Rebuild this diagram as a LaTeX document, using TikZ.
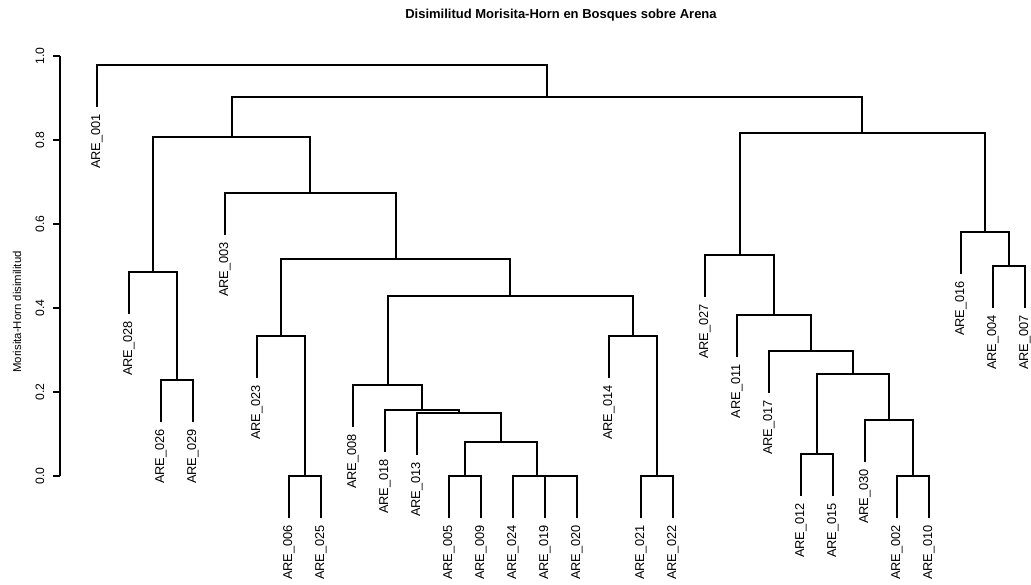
\documentclass[tikz,border=0pt]{standalone}
\usepackage{fontspec}
\setmainfont{Liberation Sans}
\begin{document}
\begin{tikzpicture}[x=1pt,y=-1pt,
  edge/.style={line width=2pt, line cap=rect},
  axisline/.style={line width=2pt},
  leaflab/.style={rotate=90, anchor=east, inner xsep=8pt, inner ysep=0pt, font=\fontsize{12.8}{14}\selectfont},
  ticklab/.style={rotate=90, inner sep=0pt, font=\fontsize{12.2}{14}\selectfont},
  titlelab/.style={font=\bfseries\fontsize{13}{15}\selectfont},
  ylab/.style={rotate=90, inner sep=0pt, font=\fontsize{11.4}{14}\selectfont}]
\useasboundingbox (0,0) rectangle (1031,585);

% title and axis
\node[titlelab] (title) at (561,15) {Disimilitud Morisita-Horn en Bosques sobre Arena};
\node[ylab] (ylabel) at (17,312) {Morisita-Horn disimilitud};
\coordinate (ax0) at (60,476);
\coordinate (ax1) at (60,56);
\draw[axisline] (ax0) -- (ax1);
\foreach \v/\y/\t in {0/476/0.0,1/392/0.2,2/308/0.4,3/224/0.6,4/140/0.8,5/56/1.0}{
  \coordinate (tk\v) at (60,\y);
  \draw[axisline] (tk\v) -- ++(-7,0);
  \node[ticklab] (tl\v) at (40,\y) {\t};
}

% merge points
\coordinate (m2629) at (177,380);
\coordinate (m028) at (153,272);
\coordinate (m0625) at (305,476);
\coordinate (m023) at (281,336);
\coordinate (m0509) at (465,476);
\coordinate (m1920) at (561,476);
\coordinate (m024g) at (537,476);
\coordinate (m5to20) at (501,442);
\coordinate (m013) at (459,413);
\coordinate (m018) at (422,410);
\coordinate (m008) at (388,385);
\coordinate (m2122) at (657,476);
\coordinate (m014) at (633,336);
\coordinate (mbig) at (510,296);
\coordinate (m023g) at (396,259);
\coordinate (m003) at (310,193);
\coordinate (mleft) at (232,137);
\coordinate (m0210) at (913,476);
\coordinate (m030) at (889,420);
\coordinate (m1215) at (817,454);
\coordinate (m12g) at (853,374);
\coordinate (m017) at (811,351);
\coordinate (m011) at (774,315);
\coordinate (m027) at (740,255);
\coordinate (m0407) at (1009,266);
\coordinate (m016) at (985,232);
\coordinate (mright) at (862,133);
\coordinate (mrest) at (547,97);
\coordinate (mtop) at (322,65);

% leaves: name / x / tip y
\foreach \n/\x/\y in {001/97/106, 028/129/313, 026/161/421, 029/193/421,
  003/225/234, 023/257/377, 006/289/517, 025/321/517,
  008/353/426, 018/385/451, 013/417/454, 005/449/517, 009/481/517,
  024/513/517, 019/545/517, 020/577/517, 014/609/377,
  021/641/517, 022/673/517, 027/705/296, 011/737/356, 017/769/392,
  012/801/495, 015/833/495, 030/865/461, 002/897/517, 010/929/517,
  016/961/273, 004/993/307, 007/1025/307}{
  \coordinate (t\n) at (\x,\y);
  \node[leaflab] (n\n) at (t\n) {ARE\_\n};
}

% connectors (child |- parent -| child)
\draw[edge] (t026) |- (m2629) -| (t029);
\draw[edge] (t028) |- (m028) -| (m2629);
\draw[edge] (t006) |- (m0625) -| (t025);
\draw[edge] (t023) |- (m023) -| (m0625);
\draw[edge] (t005) |- (m0509) -| (t009);
\draw[edge] (t019) |- (m1920) -| (t020);
\draw[edge] (t024) |- (m024g) -| (m1920);
\draw[edge] (m0509) |- (m5to20) -| (m024g);
\draw[edge] (t013) |- (m013) -| (m5to20);
\draw[edge] (t018) |- (m018) -| (m013);
\draw[edge] (t008) |- (m008) -| (m018);
\draw[edge] (t021) |- (m2122) -| (t022);
\draw[edge] (t014) |- (m014) -| (m2122);
\draw[edge] (m008) |- (mbig) -| (m014);
\draw[edge] (m023) |- (m023g) -| (mbig);
\draw[edge] (t003) |- (m003) -| (m023g);
\draw[edge] (m028) |- (mleft) -| (m003);
\draw[edge] (t002) |- (m0210) -| (t010);
\draw[edge] (t030) |- (m030) -| (m0210);
\draw[edge] (t012) |- (m1215) -| (t015);
\draw[edge] (m1215) |- (m12g) -| (m030);
\draw[edge] (t017) |- (m017) -| (m12g);
\draw[edge] (t011) |- (m011) -| (m017);
\draw[edge] (t027) |- (m027) -| (m011);
\draw[edge] (t004) |- (m0407) -| (t007);
\draw[edge] (t016) |- (m016) -| (m0407);
\draw[edge] (m027) |- (mright) -| (m016);
\draw[edge] (mleft) |- (mrest) -| (mright);
\draw[edge] (t001) |- (mtop) -| (mrest);
\end{tikzpicture}
\end{document}
